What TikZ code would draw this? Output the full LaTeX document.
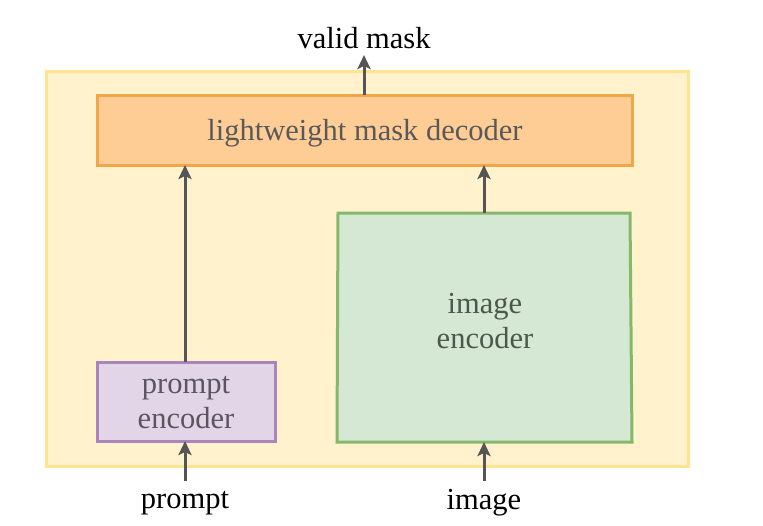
\documentclass[tikz,border=0pt]{standalone}
\usepackage{fontspec}
\setmainfont{Liberation Serif}
\usetikzlibrary{arrows.meta}
\definecolor{outerfill}{HTML}{FFF2CC}
\definecolor{outerline}{HTML}{FFE38F}
\definecolor{decfill}{HTML}{FECC95}
\definecolor{decline}{HTML}{F2A64A}
\definecolor{prfill}{HTML}{E1D5E7}
\definecolor{prline}{HTML}{A984BD}
\definecolor{imfill}{HTML}{D5E8D4}
\definecolor{imline}{HTML}{86B86C}
\definecolor{arrowgray}{HTML}{555555}
\definecolor{dectext}{HTML}{595959}
\definecolor{prtext}{HTML}{5A5560}
\definecolor{imtext}{HTML}{4C584B}
\begin{document}
\begin{tikzpicture}[x=1pt,y=-1pt,
  lbl/.style={font=\fontsize{30.5}{35}\selectfont, align=center, inner sep=0pt},
  flow/.style={draw=arrowgray, line width=3pt, -{Stealth[length=14pt,width=13pt,inset=3pt]}},
  boxline/.style={line width=3pt}]
\useasboundingbox (0,0) rectangle (763,525);
% outer container
\draw[boxline, draw=outerline, fill=outerfill] (46,71) rectangle (688,466);
% mask decoder
\draw[boxline, draw=decline, fill=decfill] (97,95) rectangle (632,165);
\node[lbl, text=dectext] (dec) at (365,133) {lightweight mask decoder};
\coordinate (decTop) at (364,95);
\coordinate (decBotL) at (185,165);
\coordinate (decBotR) at (484,165);
% prompt encoder
\draw[boxline, draw=prline, fill=prfill] (97,362) rectangle (275,441);
\node[lbl, text=prtext] (pe) at (186,402.5) {prompt\\encoder};
\coordinate (peTop) at (185,362);
\coordinate (peBot) at (185,441);
% image encoder
\draw[boxline, draw=imline, fill=imfill] (338,213) -- (630,213) -- (632,442) -- (337,442) -- cycle;
\node[lbl, text=imtext] (ie) at (485,321) {image\\encoder};
\coordinate (ieTop) at (484,213);
\coordinate (ieBot) at (484,442);
% external labels
\node[lbl, text=black] (vm) at (364,38) {valid mask};
\node[lbl, text=black] (pin) at (185,503) {prompt};
\node[lbl, text=black] (iin) at (484,503) {image};
\coordinate (vmArr) at (364,55);
\coordinate (pinTop) at (185,481);
\coordinate (iinTop) at (484,481);
% connectors
\draw[flow] (decTop) -- (vmArr);
\draw[flow] (peTop) -- (decBotL);
\draw[flow] (ieTop) -- (decBotR);
\draw[flow] (pinTop) -- (peBot);
\draw[flow] (iinTop) -- (ieBot);
\end{tikzpicture}
\end{document}
